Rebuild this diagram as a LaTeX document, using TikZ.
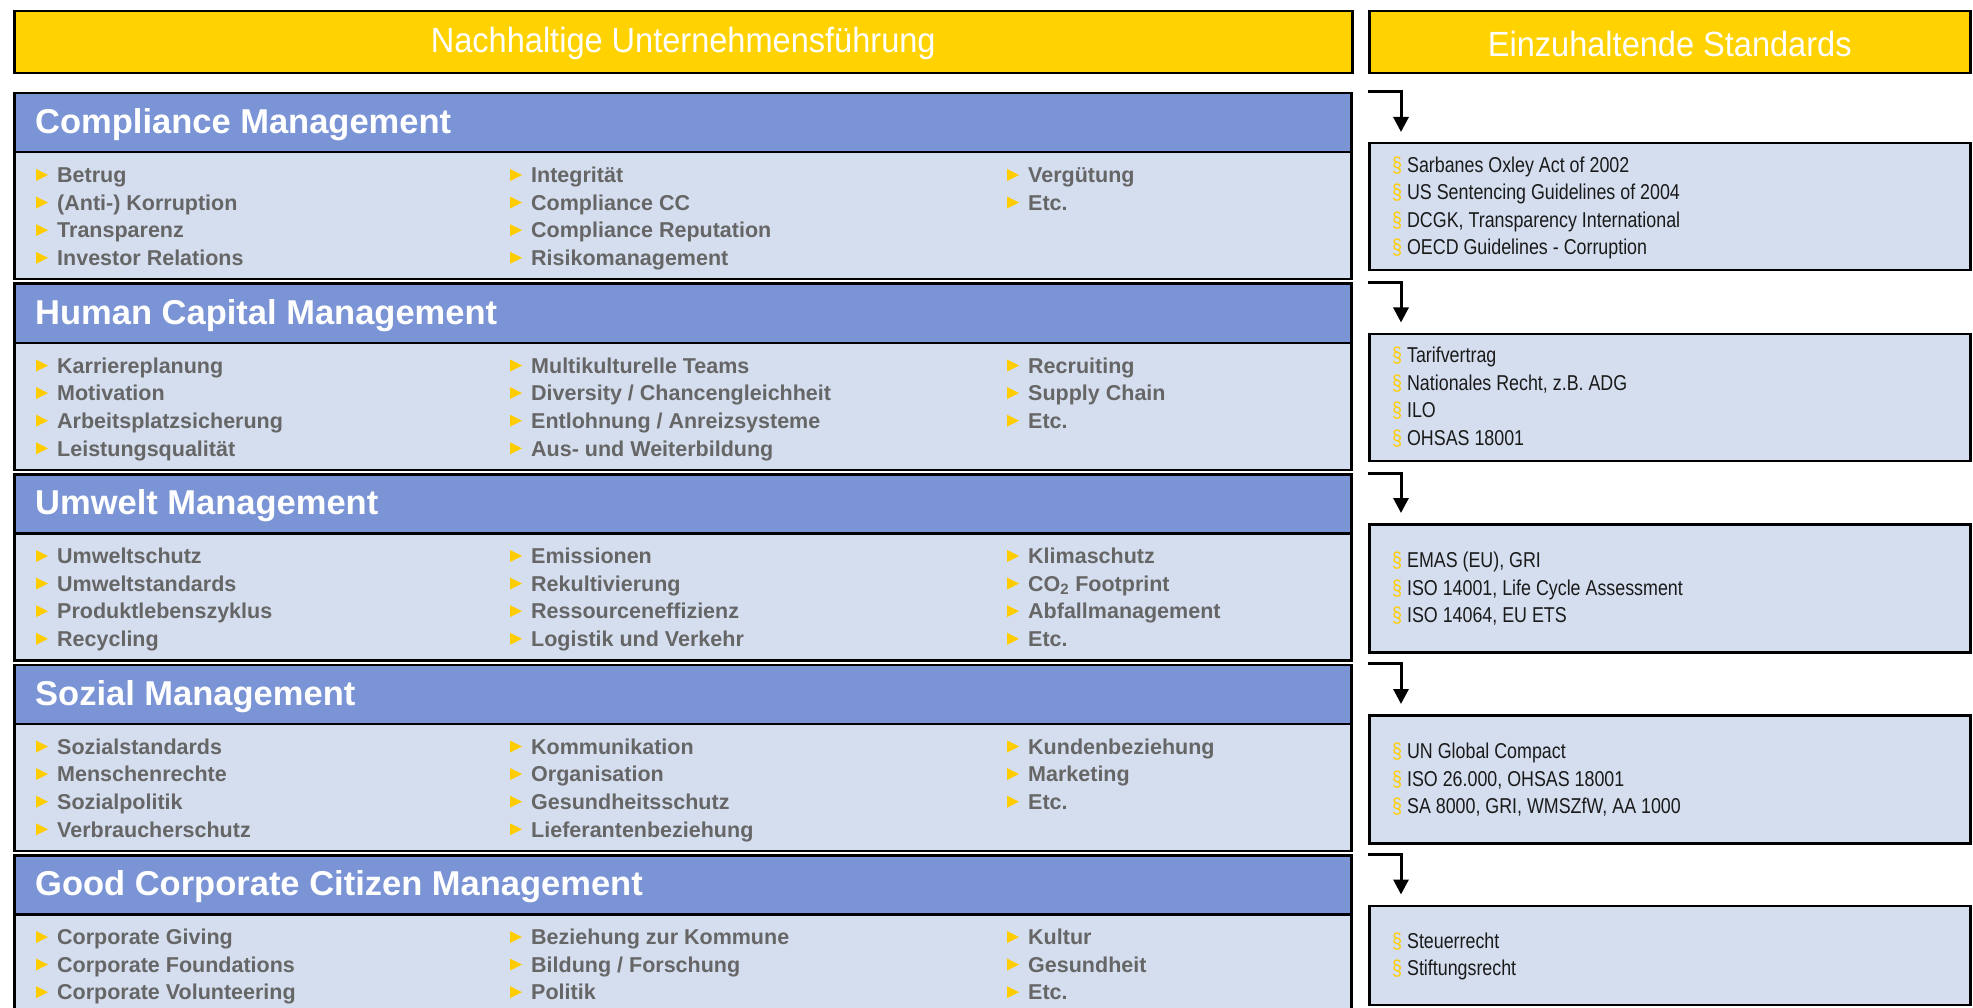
\documentclass[tikz,border=0pt]{standalone}
\usepackage{fontspec}
\setmainfont{Liberation Sans}
\newfontfamily\titlefont{Liberation Sans}[FakeStretch=0.93]
\newfontfamily\stdfont{Liberation Sans}[FakeStretch=0.83]
\usetikzlibrary{arrows.meta}
\definecolor{hyel}{HTML}{FFD200}
\definecolor{hblue}{HTML}{7B94D6}
\definecolor{lblue}{HTML}{D5DEEF}
\definecolor{bulyel}{HTML}{FFCC00}
\definecolor{itemgray}{HTML}{666666}
\definecolor{stdtxt}{HTML}{1A1A1A}
\tikzset{
  ybox/.style={draw=black, line width=2.5pt, fill=hyel, anchor=north west, inner sep=0pt},
  hbox/.style={draw=black, line width=2.5pt, fill=hblue, anchor=north west, inner sep=0pt, minimum width=1337pt, minimum height=59pt},
  cbox/.style={draw=black, line width=2.5pt, fill=lblue, anchor=north west, inner sep=0pt, minimum width=1337pt, minimum height=127pt},
  sbox/.style={draw=black, line width=2.5pt, fill=lblue, anchor=north west, inner sep=0pt, minimum width=601pt},
  titletxt/.style={text=white, font=\titlefont\fontsize{35}{40}\selectfont, inner sep=0pt},
  sectxt/.style={text=white, font=\bfseries\fontsize{34.5}{40}\selectfont, inner sep=0pt, anchor=west},
  itemtxt/.style={text=itemgray, font=\bfseries\fontsize{21.5}{24}\selectfont, inner sep=0pt, anchor=base west},
  stdtext/.style={text=stdtxt, font=\stdfont\fontsize{21.5}{24}\selectfont, inner sep=0pt, anchor=base west},
  bul/.style={fill=bulyel},
  conn/.style={draw=black, line width=3pt, -{Triangle[width=15pt,length=15pt]}}
}
\newcommand\itemcol[4]{%
  \foreach \t [count=\k] in {#4} {%
    \fill[bul] ({#2-21},{#3+(\k-1)*27.6-6}) -- ({#2-9},{#3+(\k-1)*27.6}) -- ({#2-21},{#3+(\k-1)*27.6+6}) -- cycle;
    \node[itemtxt] (#1\k) at (#2,{#3+(\k-1)*27.6+7.7}) {\t};
  }}
\newcommand\stdcol[3]{%
  \foreach \t [count=\k] in {#3} {%
    \node[stdtext] (#1\k) at (1392,{#2+(\k-1)*27.6+8}) {{\color{bulyel}§} \t};
  }}
\begin{document}
\begin{tikzpicture}[x=1pt,y=-1pt]
\useasboundingbox (0,0) rectangle (1973,1008);
\clip (0,0) rectangle (1973,1008);
\fill[white] (0,0) rectangle (1973,1008);

% top headers
\node[ybox, minimum width=1338pt, minimum height=62pt] (hL) at (13,10) {};
\node[titletxt] (hLt) at ([yshift=-1.5pt]hL.center) {Nachhaltige Unternehmensführung};
\node[ybox, minimum width=601pt, minimum height=62pt] (hR) at (1368,10) {};
\node[titletxt] (hRt) at ([yshift=-1.5pt]hR.center) {Einzuhaltende Standards};

% left rows
\foreach \i/\nm in {0/Compliance Management,1/Human Capital Management,2/Umwelt Management,3/Sozial Management,4/Good Corporate Citizen Management} {
  \node[cbox] (c\i) at (13,{92+190.5*\i+59}) {};
  \node[hbox] (h\i) at (13,{92+190.5*\i}) {};
  \node[sectxt] (ht\i) at (35,{92+190.5*\i+33}) {\nm};
}

% items
\itemcol{ia}{57}{175}{Betrug,(Anti-) Korruption,Transparenz,Investor Relations}
\itemcol{ib}{531}{175}{Integrität,Compliance CC,Compliance Reputation,Risikomanagement}
\itemcol{ic}{1028}{175}{Vergütung,Etc.}

\itemcol{id}{57}{365.5}{Karriereplanung,Motivation,Arbeitsplatzsicherung,Leistungsqualität}
\itemcol{ie}{531}{365.5}{Multikulturelle Teams,Diversity / Chancengleichheit,Entlohnung / Anreizsysteme,Aus- und Weiterbildung}
\itemcol{if}{1028}{365.5}{Recruiting,Supply Chain,Etc.}

\itemcol{ig}{57}{556}{Umweltschutz,Umweltstandards,Produktlebenszyklus,Recycling}
\itemcol{ih}{531}{556}{Emissionen,Rekultivierung,Ressourceneffizienz,Logistik und Verkehr}
\itemcol{ii}{1028}{556}{Klimaschutz,CO\textsubscript{2} Footprint,Abfallmanagement,Etc.}

\itemcol{ij}{57}{746.5}{Sozialstandards,Menschenrechte,Sozialpolitik,Verbraucherschutz}
\itemcol{ik}{531}{746.5}{Kommunikation,Organisation,Gesundheitsschutz,Lieferantenbeziehung}
\itemcol{il}{1028}{746.5}{Kundenbeziehung,Marketing,Etc.}

\itemcol{im}{57}{937}{Corporate Giving,Corporate Foundations,Corporate Volunteering}
\itemcol{in}{531}{937}{Beziehung zur Kommune,Bildung / Forschung,Politik}
\itemcol{io}{1028}{937}{Kultur,Gesundheit,Etc.}

% standards boxes
\node[sbox, minimum height=127pt] (std0) at (1368,142) {};
\node[sbox, minimum height=127pt] (std1) at (1368,332.5) {};
\node[sbox, minimum height=128pt] (std2) at (1368,523) {};
\node[sbox, minimum height=128pt] (std3) at (1368,714) {};
\node[sbox, minimum height=99pt] (std4) at (1368,904.5) {};

\stdcol{sp}{164.1}{Sarbanes Oxley Act of 2002,US Sentencing Guidelines of 2004,{DCGK, Transparency International},OECD Guidelines - Corruption}
\stdcol{sq}{354.6}{Tarifvertrag,{Nationales Recht, z.B. ADG},ILO,OHSAS 18001}
\stdcol{sr}{559.4}{{EMAS (EU), GRI},{ISO 14001, Life Cycle Assessment},{ISO 14064, EU ETS}}
\stdcol{ss}{750.4}{UN Global Compact,{ISO 26.000, OHSAS 18001},{SA 8000, GRI, WMSZfW, AA 1000}}
\stdcol{st}{940.2}{Steuerrecht,Stiftungsrecht}

% connectors
\foreach \i in {0,...,4} {
  \coordinate (cs\i) at (1368,{92+190.5*\i});
  \draw[conn] (cs\i) -| ([xshift=33pt,yshift=10pt]std\i.north west);
}
\end{tikzpicture}
\end{document}
